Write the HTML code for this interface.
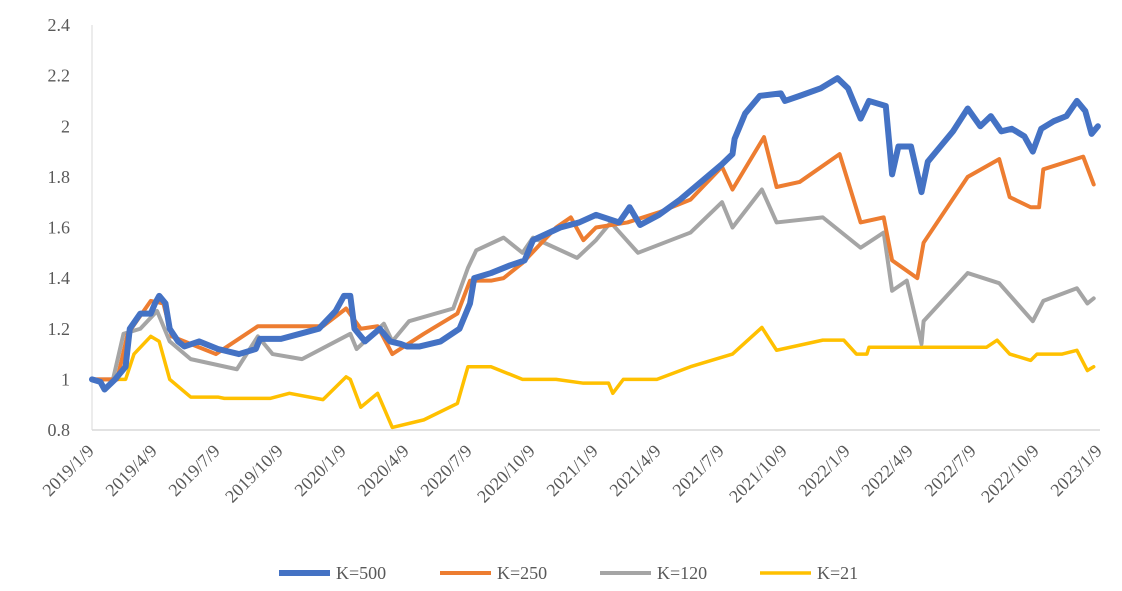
<!DOCTYPE html>
<html><head><meta charset="utf-8"><style>
body{margin:0;background:#fff;}
svg{display:block;font-family:"Liberation Serif",serif;}
</style></head><body>
<svg id="chart" width="1122" height="591" viewBox="0 0 1122 591"></svg>
<script>
const yTicks=[0.8,1,1.2,1.4,1.6,1.8,2,2.2,2.4];
const yTickLabels=["0.8","1","1.2","1.4","1.6","1.8","2","2.2","2.4"];
const xTickLabels=["2019/1/9","2019/4/9","2019/7/9","2019/10/9","2020/1/9","2020/4/9","2020/7/9","2020/10/9","2021/1/9","2021/4/9","2021/7/9","2021/10/9","2022/1/9","2022/4/9","2022/7/9","2022/10/9","2023/1/9"];
const seriesNames=["K=500","K=250","K=120","K=21"];
const t500=[0,0.4,0.6,1.1,1.6,1.8,2.3,2.8,3.0,3.2,3.5,3.7,4.1,4.4,5.1,6.0,7.0,7.8,8.0,9.0,9.9,10.8,11.6,12.0,12.3,12.5,13.0,13.7,14.2,14.7,15.0,15.6,16.6,17.5,18.0,18.2,19.0,19.9,20.6,21.0,22.3,23.2,24.0,25.1,25.6,26.1,27.0,28.0,29.0,30.0,30.5,30.6,31.1,31.8,32.8,33.0,33.7,34.7,35.5,36.0,36.6,37.0,37.8,38.1,38.4,39.0,39.5,39.8,40.4,41.0,41.7,42.3,42.8,43.3,43.8,44.4,44.8,45.2,45.8,46.4,46.9,47.3,47.6,47.9];
const v500=[1.0,0.99,0.96,1.0,1.05,1.2,1.26,1.26,1.3,1.33,1.3,1.2,1.15,1.13,1.15,1.12,1.1,1.12,1.16,1.16,1.18,1.2,1.27,1.33,1.33,1.2,1.15,1.2,1.15,1.14,1.13,1.13,1.15,1.2,1.3,1.4,1.42,1.45,1.47,1.55,1.6,1.62,1.65,1.62,1.68,1.61,1.65,1.71,1.78,1.85,1.89,1.95,2.05,2.12,2.13,2.1,2.12,2.15,2.19,2.15,2.03,2.1,2.08,1.81,1.92,1.92,1.74,1.86,1.92,1.98,2.07,2.0,2.04,1.98,1.99,1.96,1.9,1.99,2.02,2.04,2.1,2.06,1.97,2.0];
const t250=[0,1.2,1.7,2.8,3.4,3.8,5.9,7.9,11.0,12.1,12.8,13.6,14.3,15.8,17.4,18.0,19.0,19.6,20.5,22.1,22.8,23.4,24.0,25.5,27.0,28.5,30.0,30.5,32.0,32.6,33.7,35.6,36.6,37.7,38.1,39.3,39.6,41.7,43.2,43.7,44.7,45.1,45.3,47.2,47.7];
const v250=[1.0,1.0,1.18,1.31,1.3,1.17,1.1,1.21,1.21,1.28,1.2,1.21,1.1,1.18,1.26,1.39,1.39,1.4,1.46,1.6,1.64,1.55,1.6,1.62,1.66,1.71,1.84,1.75,1.957,1.76,1.78,1.89,1.62,1.64,1.47,1.4,1.54,1.8,1.87,1.72,1.68,1.68,1.83,1.88,1.77];
const t120=[0,1.0,1.5,2.3,3.1,3.7,4.7,6.9,7.9,8.6,10.0,12.3,12.6,13.9,14.3,15.1,17.2,17.9,18.3,19.6,20.5,21.0,23.1,24.0,24.7,26.0,28.5,30.0,30.5,31.9,32.6,34.8,36.6,37.7,38.1,38.8,39.5,39.6,41.7,43.2,44.8,45.3,46.9,47.4,47.7];
const v120=[1.0,1.0,1.18,1.2,1.27,1.15,1.08,1.04,1.17,1.1,1.08,1.18,1.12,1.22,1.15,1.23,1.28,1.44,1.51,1.56,1.5,1.56,1.48,1.55,1.62,1.5,1.58,1.7,1.6,1.75,1.62,1.64,1.52,1.58,1.35,1.39,1.14,1.23,1.42,1.38,1.23,1.31,1.36,1.3,1.32];
const t21=[0,1.6,2.0,2.8,3.2,3.7,4.7,6.0,6.3,8.5,9.4,11.0,12.1,12.3,12.8,13.6,14.3,15.8,17.4,17.9,19.0,20.5,22.1,23.4,24.6,24.8,25.3,26.9,28.5,30.5,31.9,32.6,34.8,35.8,36.4,36.9,37.0,42.6,43.1,43.7,44.7,45.0,46.2,46.9,47.4,47.7];
const v21=[1,1,1.1,1.17,1.15,1.0,0.93,0.93,0.925,0.925,0.945,0.92,1.01,1.0,0.89,0.945,0.81,0.84,0.905,1.05,1.05,1.0,1.0,0.985,0.985,0.945,1.0,1.0,1.05,1.1,1.205,1.115,1.155,1.155,1.1,1.1,1.127,1.127,1.155,1.1,1.075,1.1,1.1,1.115,1.035,1.05];

const NS="http://www.w3.org/2000/svg";
const svg=document.getElementById('chart');
const X0=92,X1=1100,Y0=430,Y1=25;
const xs=m=>X0+m*(X1-X0)/48;
const ys=v=>Y0-(v-0.8)*(Y0-Y1)/1.6;
function mk(tag,attrs,parent){const e=document.createElementNS(NS,tag);for(const k in attrs)e.setAttribute(k,attrs[k]);(parent||svg).appendChild(e);return e;}

const yl=mk('line',{x1:X0,x2:X0,y1:Y1,y2:Y0,stroke:'#d9d9d9','stroke-width':1});


yTicks.forEach((v,i)=>{
  const t=mk('text',{x:70,y:ys(v)+6,'text-anchor':'end','font-size':18,fill:'#595959'});
  t.textContent=yTickLabels[i];
  
  
});
const xl=mk('line',{x1:X0,x2:X1,y1:Y0,y2:Y0,stroke:'#d9d9d9','stroke-width':1.5});


xTickLabels.forEach((s,i)=>{
  const x=xs(i*3);
  const t=mk('text',{x:x+3,y:Y0+22,'text-anchor':'end','font-size':18,fill:'#595959',transform:`rotate(-45 ${x+3} ${Y0+22})`});
  t.textContent=s;
  
  
});
const series=[[t500,v500,'#4472C4',6,'series-k500'],[t250,v250,'#ED7D31',4,'series-k250'],[t120,v120,'#A5A5A5',4,'series-k120'],[t21,v21,'#FFC000',3.5,'series-k21']];
[3,2,1,0].forEach(i=>{
  const [t,v,c,w,n]=series[i];
  const p=mk('polyline',{points:t.map((m,j)=>xs(m)+','+ys(v[j])).join(' '),fill:'none',stroke:c,'stroke-width':w,'stroke-linejoin':'round','stroke-linecap':'round'});
  
  
});
const lx=[279,440,600,760];
series.forEach((s,i)=>{
  const g=mk('g',{});
  
  
  mk('line',{x1:lx[i],x2:lx[i]+51,y1:573,y2:573,stroke:s[2],'stroke-width':s[3]},g);
  const t=mk('text',{x:lx[i]+57,y:579,'font-size':18,fill:'#595959'},g);
  t.textContent=seriesNames[i];
});
</script>
</body></html>
